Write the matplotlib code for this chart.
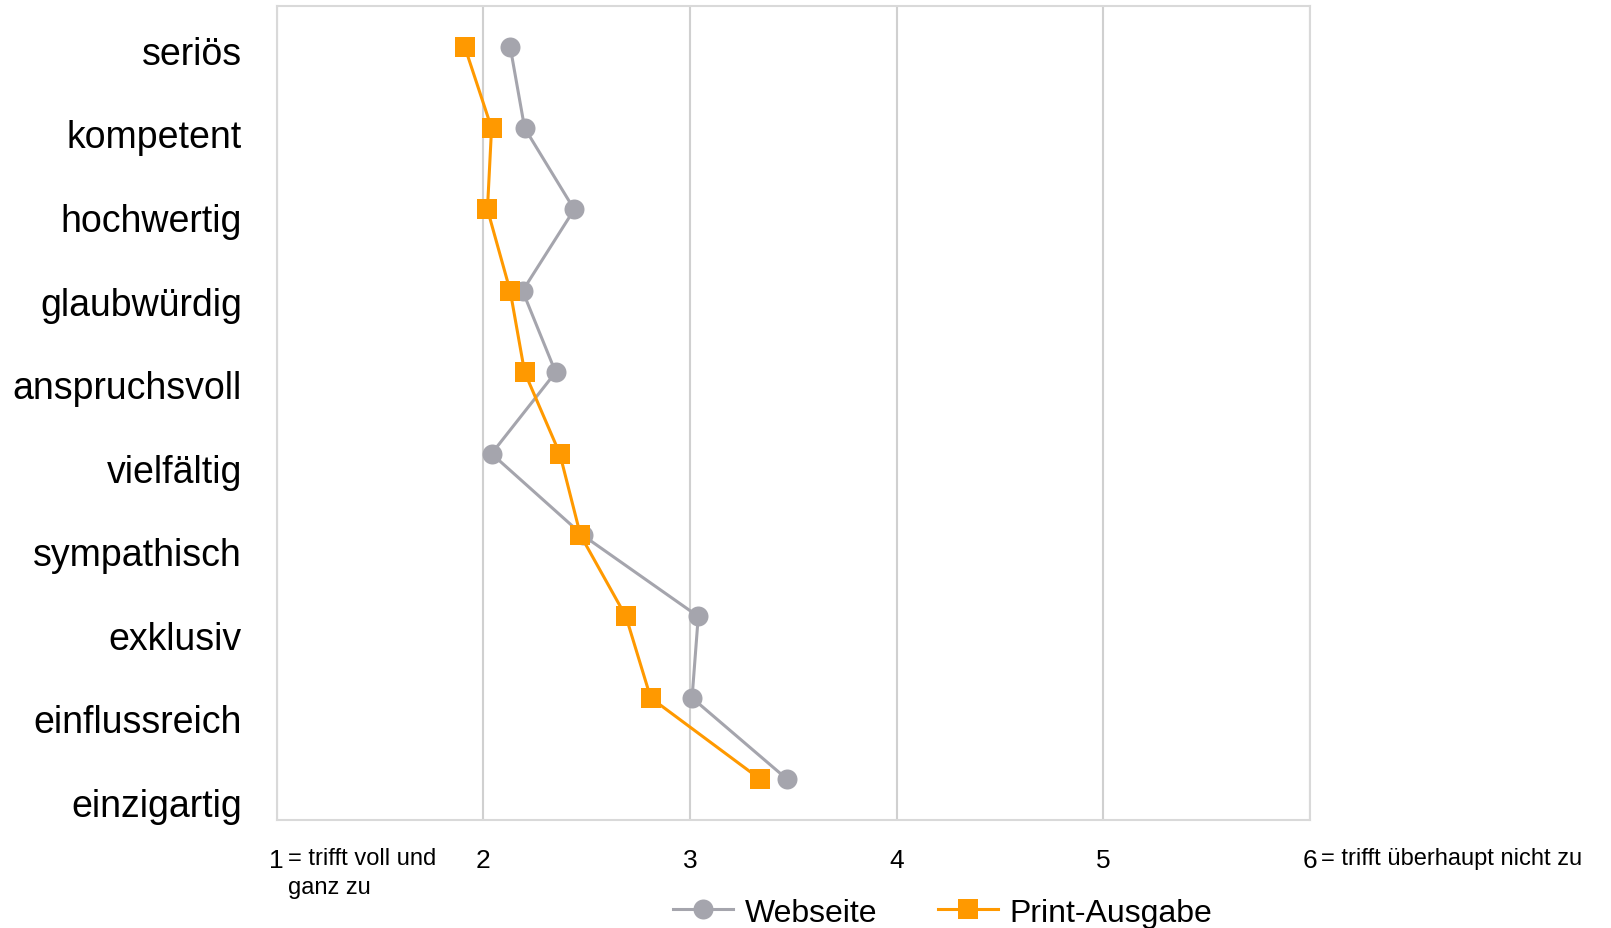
import matplotlib.pyplot as plt
import numpy as np

plt.rcParams['font.family'] = ['Liberation Sans', 'DejaVu Sans']

# Eigenschaften (von oben nach unten)
kategorien = ["seriös", "kompetent", "hochwertig", "glaubwürdig", "anspruchsvoll",
              "vielfältig", "sympathisch", "exklusiv", "einflussreich", "einzigartig"]

# Mittelwerte (1 = trifft voll und ganz zu, 6 = trifft überhaupt nicht zu)
webseite = [2.13, 2.20, 2.44, 2.19, 2.35, 2.04, 2.48, 3.04, 3.01, 3.47]
print_ausgabe = [1.91, 2.04, 2.02, 2.13, 2.20, 2.37, 2.47, 2.69, 2.81, 3.34]

x_ticks = [1, 2, 3, 4, 5, 6]
x_ticklabels = ["1", "2", "3", "4", "5", "6"]
text_links = ["= trifft voll und", "ganz zu"]
text_rechts = "= trifft überhaupt nicht zu"

grau = '#A5A5AD'
orange = '#FF9900'
gitter = '#D0D0D0'

fig = plt.figure(figsize=(16.11, 9.29), dpi=100)
ax = fig.add_axes([0.1717, 0.1163, 0.6415, 0.8762])

y = np.arange(len(kategorien))
ax.plot(webseite, y, color=grau, lw=2.2, marker='o', ms=14.4, mew=0,
        label='Webseite', zorder=3)
ax.plot(print_ausgabe, y, color=orange, lw=2.2, marker='s', ms=14.4, mew=0,
        label='Print-Ausgabe', zorder=4)

ax.set_xlim(1, 6)
ax.set_ylim(len(kategorien) - 0.5, -0.5)
# die Beschriftungen stehen im Original etwas weiter auseinander als die Punkte
ax.set_yticks(0.04 + 1.0265 * y)
ax.set_yticklabels(kategorien, fontsize=27)
ax.tick_params(axis='y', length=0, pad=25)

ax.set_xticks(x_ticks)
ax.set_xticklabels(x_ticklabels, fontsize=19)
ax.tick_params(axis='x', length=0, pad=20)

ax.grid(axis='x', color=gitter, lw=1.5)
ax.set_axisbelow(True)
for s in ax.spines.values():
    s.set_color('#D9D9D9')
    s.set_linewidth(1.5)

# Erläuterungen neben den Skalenendpunkten
ax.text(0.0112, -0.0467, text_links[0], transform=ax.transAxes, fontsize=17,
        ha='left', va='center')
ax.text(0.0112, -0.0823, text_links[1], transform=ax.transAxes, fontsize=17,
        ha='left', va='center')
ax.text(1.0106, -0.0467, text_rechts, transform=ax.transAxes, fontsize=17,
        ha='left', va='center')

fig.legend(loc='center', bbox_to_anchor=(0.585, 0.0165), ncol=2, frameon=False,
           fontsize=23, handlelength=1.9, handletextpad=0.35, columnspacing=1.9,
           borderpad=0)

fig.savefig('out.png', dpi=100)
